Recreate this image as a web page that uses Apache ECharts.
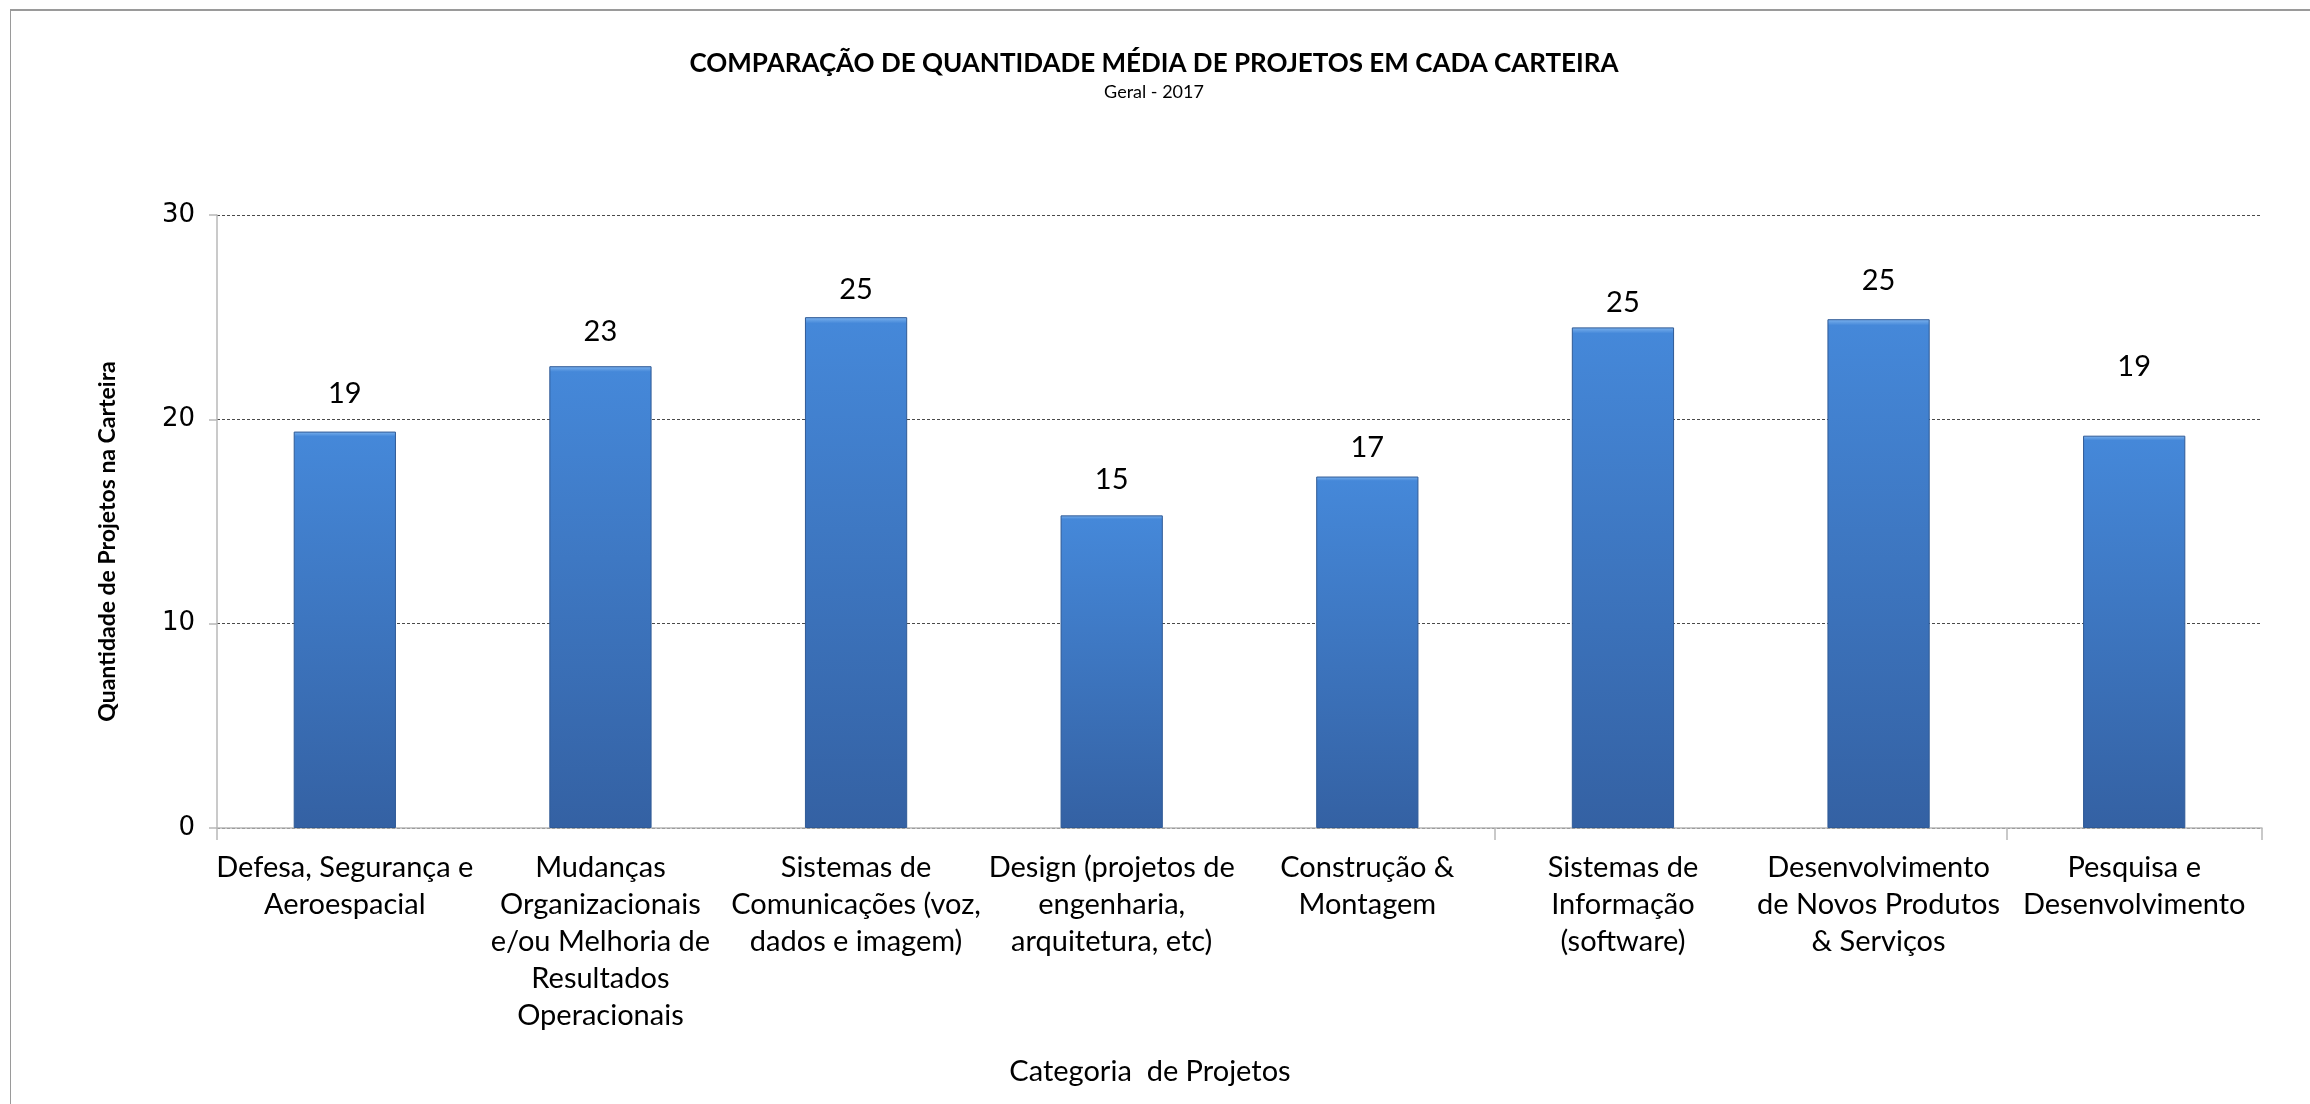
<!DOCTYPE html>
<html>
<head>
<meta charset="utf-8">
<title>Comparação de quantidade média de projetos</title>
<script src="https://cdn.jsdelivr.net/npm/echarts@6/dist/echarts.min.js"></script>
<style>
html, body {
  margin: 0;
  padding: 0;
  background: #fff;
  overflow: hidden;
}
#frame {
  position: absolute;
  left: 10px;
  top: 9px;
  width: 2400px;
  height: 1200px;
  border-left: 1px solid #9a9a9a;
  border-top: 2px solid #9a9a9a;
}
#chart {
  position: absolute;
  left: 0;
  top: 0;
  width: 2310px;
  height: 1104px;
}
</style>
</head>
<body>
<div id="frame"></div>
<div id="chart"></div>
<script>
// categorias (com as quebras de linha do original)
var categorias = [
  "Defesa, Segurança e\nAeroespacial",
  "Mudanças\nOrganizacionais\ne/ou Melhoria de\nResultados\nOperacionais",
  "Sistemas de\nComunicações (voz,\ndados e imagem)",
  "Design (projetos de\nengenharia,\narquitetura, etc)",
  "Construção &\nMontagem",
  "Sistemas de\nInformação\n(software)",
  "Desenvolvimento\nde Novos Produtos\n& Serviços",
  "Pesquisa e\nDesenvolvimento"
];
// quantidade média de projetos por carteira
var mediaProjetos = [19.4, 22.6, 25.0, 15.3, 17.2, 24.5, 24.9, 19.2];
var eixoY = { min: 0, max: 30, passo: 10 };

// no original os rótulos foram arrastados à mão: distância de cada um à barra
var distRotulo = [23, 20, 13, 21, 14, 10, 24, 55];

var fonte = "Lato, 'Open Sans', sans-serif";

var corBarra = new echarts.graphic.LinearGradient(0, 0, 0, 1, [
  { offset: 0, color: "#7db3ee" },
  { offset: 0.012, color: "#4588d9" },
  { offset: 1, color: "#3461a3" }
]);

var chart = echarts.init(document.getElementById("chart"));

var option = {
  animation: false,
  title: [
    {
      text: "COMPARAÇÃO DE QUANTIDADE MÉDIA DE PROJETOS EM CADA CARTEIRA",
      subtext: "Geral - 2017",
      left: 1149,
      top: 46,
      textAlign: "center",
      itemGap: 6,
      textStyle: {
        fontFamily: fonte,
        fontWeight: "bold",
        fontSize: 26,
        color: "#000"
      },
      subtextStyle: {
        fontFamily: fonte,
        fontSize: 18,
        color: "#000"
      }
    },
    {
      text: "Categoria  de Projetos",
      left: 1145,
      top: 1052,
      textAlign: "center",
      textStyle: {
        fontFamily: fonte,
        fontWeight: "normal",
        fontSize: 29,
        color: "#000"
      }
    }
  ],
  grid: {
    left: 217,
    right: 48,
    top: 215,
    bottom: 276,
    containLabel: false
  },
  xAxis: {
    type: "category",
    data: categorias,
    axisLine: {
      show: true,
      lineStyle: { color: "#b8b8b8", width: 1.5 }
    },
    axisTick: {
      show: true,
      interval: 4,
      length: 12,
      lineStyle: { color: "#b8b8b8", width: 1.5 }
    },
    axisLabel: {
      interval: 0,
      margin: 21,
      fontFamily: fonte,
      fontSize: 29,
      lineHeight: 37,
      color: "#000",
      align: "center"
    },
    splitLine: { show: false }
  },
  yAxis: {
    type: "value",
    min: eixoY.min,
    max: eixoY.max,
    interval: eixoY.passo,
    name: "Quantidade de Projetos na Carteira",
    nameLocation: "middle",
    nameGap: 98,
    nameTextStyle: {
      fontFamily: fonte,
      fontWeight: "bold",
      fontSize: 23,
      color: "#000",
      padding: [0, 0, 0, -40]
    },
    axisLine: {
      show: true,
      lineStyle: { color: "#b8b8b8", width: 1.5 }
    },
    axisTick: {
      show: true,
      inside: false,
      length: 8,
      lineStyle: { color: "#b8b8b8", width: 1.5 }
    },
    axisLabel: {
      margin: 22,
      fontFamily: "'DejaVu Sans', Verdana, sans-serif",
      fontSize: 26,
      color: "#000"
    },
    splitLine: {
      show: true,
      lineStyle: {
        color: "#4a4a4a",
        width: 1,
        type: [3, 2]
      }
    }
  },
  series: [
    {
      type: "bar",
      data: mediaProjetos.map(function (v, i) {
        return { value: v, label: { distance: distRotulo[i] } };
      }),
      barWidth: "40%",
      itemStyle: {
        color: corBarra,
        borderColor: "#2f5a96",
        borderWidth: 1
      },
      label: {
        show: true,
        position: "top",
        distance: 20,
        fontFamily: fonte,
        fontSize: 29,
        color: "#000",
        formatter: function (p) {
          return Math.round(p.value);
        }
      }
    }
  ]
};

chart.setOption(option);
</script>
</body>
</html>
